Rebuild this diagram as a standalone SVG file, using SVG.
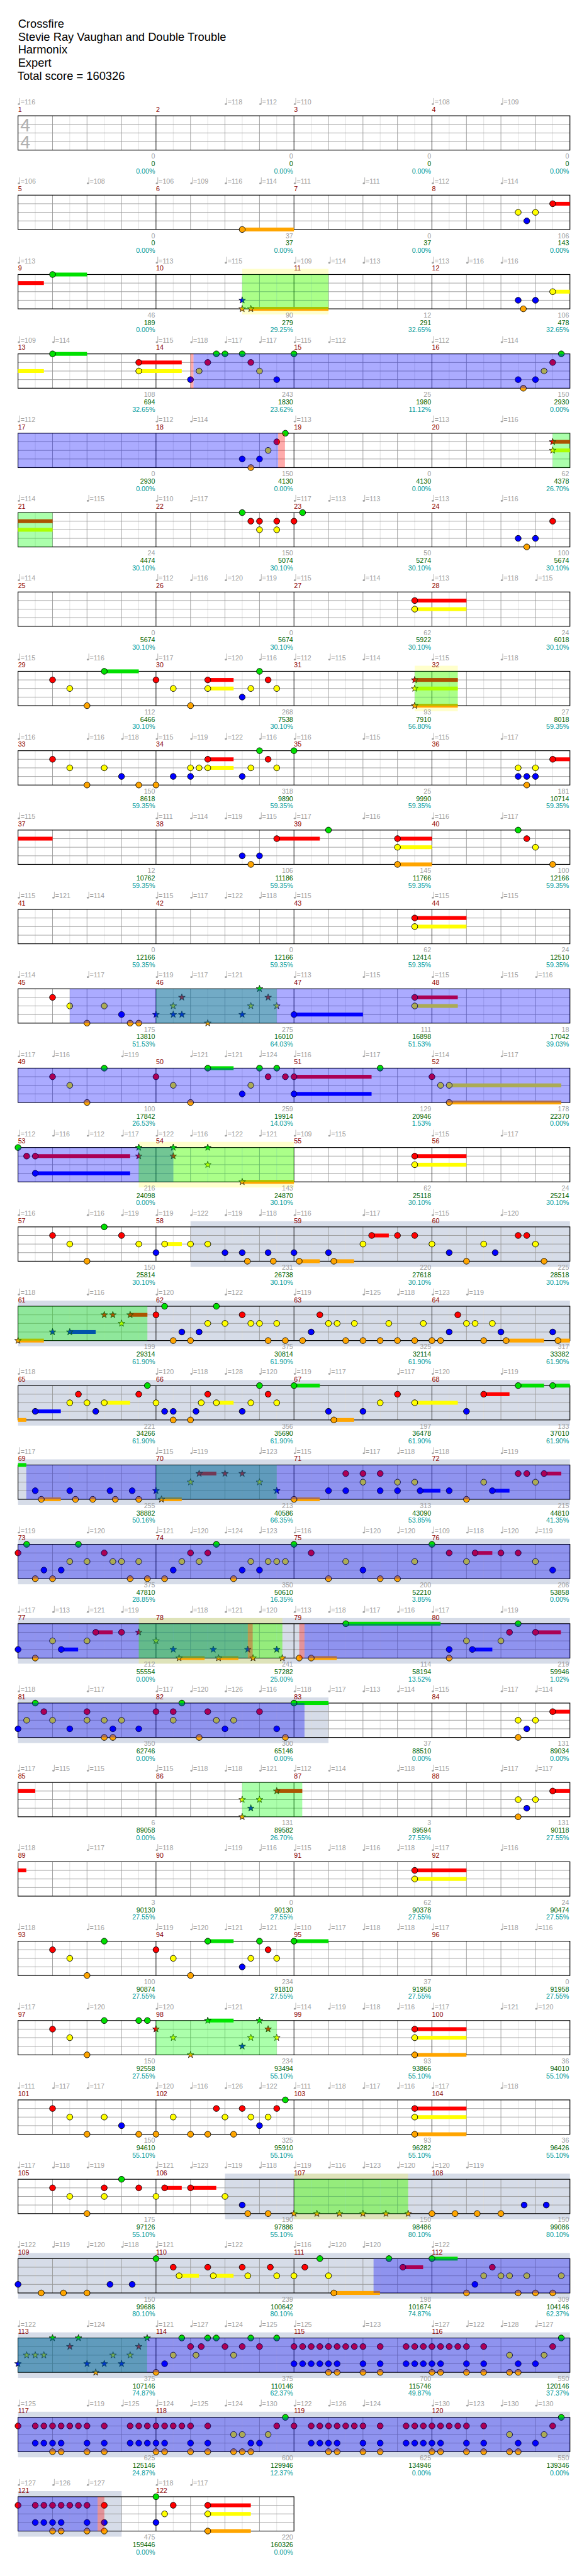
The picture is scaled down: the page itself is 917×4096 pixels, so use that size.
<svg xmlns="http://www.w3.org/2000/svg" width="917" height="4096" viewBox="0 0 917 4096">
<style>
text{font-family:"Liberation Sans",Arial,sans-serif;font-size:12px}
.ti{font-size:20.5px;fill:#000}
.tp{fill:#a0a0a0}
.mn{fill:#8b0000}
.a,.b,.c{text-anchor:end}
.a{fill:#a0a0a0}.b{fill:#006400}.c{fill:#009a9a}
.G{fill:#00e000}.R{fill:#f00}.Y{fill:#ff0}.B{fill:#00f}.O{fill:#ffa500}
.gb{fill:#d6dce8}.yb{fill:#ff0;fill-opacity:.2}
.ob{fill:#00f;fill-opacity:.33}.og{fill:#0f0;fill-opacity:.33}.op{fill:#f00;fill-opacity:.33}
.l1{stroke:#ddd;stroke-width:1;fill:none}.l2{stroke:#999;stroke-width:1;fill:none}.l3{stroke:#000;stroke-width:1;fill:none}
.ts{font-size:32px;fill:#b0b0b0}
</style>
<defs>
<circle id="n" r="5.3" stroke="#000" stroke-width="1"/>
<polygon id="s" points="0,-6.3 1.45,-2 6,-1.95 2.4,0.78 3.7,5.1 0,2.5 -3.7,5.1 -2.4,0.78 -6,-1.95 -1.45,-2" stroke="#000" stroke-width=".8"/>
<g id="q"><ellipse cx="1.5" cy="-0.8" rx="2" ry="1.5"/><path d="M3.2-0.8V-11.5" stroke="#a0a0a0" stroke-width=".9"/></g>
<g id="grid">
<path class="l1" d="M62.6 0v61M123.9 0v61M185.1 0v61M246.4 0v61M307.6 0v61M368.9 0v61M430.1 0v61M491.4 0v61M552.6 0v61M613.9 0v61M675.1 0v61M736.4 0v61M797.6 0v61M858.9 0v61M920.1 0v61M981.4 0v61"/>
<path class="l2" d="M93.3 0v61M154.5 0v61M215.8 0v61M338.3 0v61M399.5 0v61M460.8 0v61M583.3 0v61M644.5 0v61M705.8 0v61M828.3 0v61M889.5 0v61M950.8 0v61M32 15.25H1012M32 30.5H1012M32 45.75H1012"/>
<path class="l3" d="M277 0v61M522 0v61M767 0v61"/>
<rect x="32" y="0" width="980" height="61" fill="none" stroke="#000" stroke-width="1.3"/>
</g>
<g id="grid2">
<path class="l1" d="M62.6 0v61M123.9 0v61M185.1 0v61M246.4 0v61M307.6 0v61M368.9 0v61M430.1 0v61M491.4 0v61"/>
<path class="l2" d="M93.3 0v61M154.5 0v61M215.8 0v61M338.3 0v61M399.5 0v61M460.8 0v61M32 15.25H522M32 30.5H522M32 45.75H522"/>
<path class="l3" d="M277 0v61"/>
<rect x="32" y="0" width="490" height="61" fill="none" stroke="#000" stroke-width="1.3"/>
</g>
</defs>
<rect width="917" height="4096" fill="#fff"/>
<g transform="scale(0.895)">
<g id="title">
<text class="ti" x="32" y="49.3">Crossfire</text>
<text class="ti" x="32" y="72.5">Stevie Ray Vaughan and Double Trouble</text>
<text class="ti" x="32" y="95.5">Harmonix</text>
<text class="ti" x="32" y="118.5">Expert</text>
<text class="ti" x="31" y="141.5">Total score = 160326</text>
</g>

<g id="row-1" transform="translate(0,205.7)">
<use href="#grid"/>
<text class="ts" x="36" y="27.5">4</text><text class="ts" x="36" y="57.5">4</text>
<g class="tp" transform="translate(0,-20)"><use href="#q" x="32"/><text x="36.7">=116</text><use href="#q" x="399.5"/><text x="404.2">=118</text><use href="#q" x="460.8"/><text x="465.5">=112</text><use href="#q" x="522"/><text x="526.7">=110</text><use href="#q" x="767"/><text x="771.7">=108</text><use href="#q" x="889.5"/><text x="894.2">=109</text></g>
<g class="mn" transform="translate(0,-7)"><text x="32">1</text><text x="277">2</text><text x="522">3</text><text x="767">4</text></g>
<g class="a" transform="translate(0,76.3)"><text x="275.5">0</text><text x="520.5">0</text><text x="765.5">0</text><text x="1010.5">0</text></g>
<g class="b" transform="translate(0,89.6)"><text x="275.5">0</text><text x="520.5">0</text><text x="765.5">0</text><text x="1010.5">0</text></g>
<g class="c" transform="translate(0,102.6)"><text x="275.5">0.00%</text><text x="520.5">0.00%</text><text x="765.5">0.00%</text><text x="1010.5">0.00%</text></g>
</g>

<g id="row-2" transform="translate(0,346.7)">
<use href="#grid"/>
<g class="tp" transform="translate(0,-20)"><use href="#q" x="32"/><text x="36.7">=106</text><use href="#q" x="154.5"/><text x="159.2">=108</text><use href="#q" x="277"/><text x="281.7">=106</text><use href="#q" x="338.3"/><text x="343">=109</text><use href="#q" x="399.5"/><text x="404.2">=116</text><use href="#q" x="460.8"/><text x="465.5">=114</text><use href="#q" x="522"/><text x="526.7">=111</text><use href="#q" x="644.5"/><text x="649.2">=111</text><use href="#q" x="767"/><text x="771.7">=112</text><use href="#q" x="889.5"/><text x="894.2">=114</text></g>
<g class="mn" transform="translate(0,-7)"><text x="32">5</text><text x="277">6</text><text x="522">7</text><text x="767">8</text></g>
<g class="R" transform="translate(0,15.25)"><rect x="981.4" y="-3.4" width="30.6" height="6.8"/><use href="#n" x="981.4"/></g>
<g class="Y" transform="translate(0,30.5)"><use href="#n" x="920.1"/><use href="#n" x="950.8"/></g>
<g class="B" transform="translate(0,45.75)"><use href="#n" x="935.4"/></g>
<g class="O" transform="translate(0,61)"><rect x="430.1" y="-3.4" width="91.9" height="6.8"/><use href="#n" x="430.1"/></g>
<g class="a" transform="translate(0,76.3)"><text x="275.5">0</text><text x="520.5">37</text><text x="765.5">0</text><text x="1010.5">106</text></g>
<g class="b" transform="translate(0,89.6)"><text x="275.5">0</text><text x="520.5">37</text><text x="765.5">37</text><text x="1010.5">143</text></g>
<g class="c" transform="translate(0,102.6)"><text x="275.5">0.00%</text><text x="520.5">0.00%</text><text x="765.5">0.00%</text><text x="1010.5">0.00%</text></g>
</g>

<g id="row-3" transform="translate(0,487.7)">
<rect class="yb" x="430.1" y="-10" width="153.2" height="81"/>
<use href="#grid"/>
<g class="tp" transform="translate(0,-20)"><use href="#q" x="32"/><text x="36.7">=113</text><use href="#q" x="277"/><text x="281.7">=113</text><use href="#q" x="399.5"/><text x="404.2">=115</text><use href="#q" x="522"/><text x="526.7">=109</text><use href="#q" x="583.3"/><text x="588">=114</text><use href="#q" x="644.5"/><text x="649.2">=113</text><use href="#q" x="767"/><text x="771.7">=113</text><use href="#q" x="828.3"/><text x="833">=116</text><use href="#q" x="889.5"/><text x="894.2">=116</text></g>
<g class="mn" transform="translate(0,-7)"><text x="32">9</text><text x="277">10</text><text x="522">11</text><text x="767">12</text></g>
<g class="G"><rect x="93.3" y="-3.4" width="61.2" height="6.8"/><use href="#n" x="93.3"/></g>
<g class="R" transform="translate(0,15.25)"><rect x="32" y="-3.4" width="45.9" height="6.8"/></g>
<g class="Y" transform="translate(0,30.5)"><rect x="981.4" y="-3.4" width="30.6" height="6.8"/><use href="#n" x="981.4"/></g>
<g class="B" transform="translate(0,45.75)"><use href="#s" x="430.1"/><use href="#n" x="920.1"/><use href="#n" x="950.8"/></g>
<g class="O" transform="translate(0,61)"><rect x="445.4" y="-3.4" width="137.9" height="6.8"/><use href="#s" x="430.1"/><use href="#s" x="445.4"/><use href="#n" x="929.3"/></g>
<rect class="og" x="430.1" y="0" width="153.2" height="61"/>
<g class="a" transform="translate(0,76.3)"><text x="275.5">46</text><text x="520.5">90</text><text x="765.5">12</text><text x="1010.5">106</text></g>
<g class="b" transform="translate(0,89.6)"><text x="275.5">189</text><text x="520.5">279</text><text x="765.5">291</text><text x="1010.5">478</text></g>
<g class="c" transform="translate(0,102.6)"><text x="275.5">0.00%</text><text x="520.5">29.25%</text><text x="765.5">32.65%</text><text x="1010.5">32.65%</text></g>
</g>

<g id="row-4" transform="translate(0,628.7)">
<use href="#grid"/>
<g class="tp" transform="translate(0,-20)"><use href="#q" x="32"/><text x="36.7">=109</text><use href="#q" x="93.3"/><text x="98">=114</text><use href="#q" x="277"/><text x="281.7">=115</text><use href="#q" x="338.3"/><text x="343">=118</text><use href="#q" x="399.5"/><text x="404.2">=117</text><use href="#q" x="460.8"/><text x="465.5">=117</text><use href="#q" x="522"/><text x="526.7">=115</text><use href="#q" x="583.3"/><text x="588">=112</text><use href="#q" x="767"/><text x="771.7">=112</text><use href="#q" x="889.5"/><text x="894.2">=114</text></g>
<g class="mn" transform="translate(0,-7)"><text x="32">13</text><text x="277">14</text><text x="522">15</text><text x="767">16</text></g>
<g class="G"><rect x="93.3" y="-3.4" width="61.2" height="6.8"/><use href="#n" x="93.3"/><use href="#n" x="384.2"/><use href="#n" x="399.5"/><use href="#n" x="430.1"/><use href="#n" x="522"/><use href="#n" x="996.7"/></g>
<g class="R" transform="translate(0,15.25)"><rect x="246.4" y="-3.4" width="76.3" height="6.8"/><use href="#n" x="246.4"/><use href="#n" x="368.9"/><use href="#n" x="445.4"/><use href="#n" x="981.4"/></g>
<g class="Y" transform="translate(0,30.5)"><rect x="32" y="-3.4" width="45.9" height="6.8"/><rect x="246.4" y="-3.4" width="76.3" height="6.8"/><use href="#n" x="246.4"/><use href="#n" x="353.6"/><use href="#n" x="460.8"/><use href="#n" x="966.1"/></g>
<g class="B" transform="translate(0,45.75)"><use href="#n" x="338.3"/><use href="#n" x="491.4"/><use href="#n" x="920.1"/><use href="#n" x="950.8"/></g>
<g class="O" transform="translate(0,61)"><use href="#n" x="929.3"/></g>
<rect class="op" x="338.3" y="0" width="5.3" height="61"/><rect class="ob" x="343.6" y="0" width="668.4" height="61"/>
<g class="a" transform="translate(0,76.3)"><text x="275.5">108</text><text x="520.5">243</text><text x="765.5">25</text><text x="1010.5">150</text></g>
<g class="b" transform="translate(0,89.6)"><text x="275.5">694</text><text x="520.5">1830</text><text x="765.5">1980</text><text x="1010.5">2930</text></g>
<g class="c" transform="translate(0,102.6)"><text x="275.5">32.65%</text><text x="520.5">23.62%</text><text x="765.5">11.12%</text><text x="1010.5">0.00%</text></g>
</g>

<g id="row-5" transform="translate(0,769.7)">
<use href="#grid"/>
<g class="tp" transform="translate(0,-20)"><use href="#q" x="32"/><text x="36.7">=112</text><use href="#q" x="277"/><text x="281.7">=112</text><use href="#q" x="338.3"/><text x="343">=114</text><use href="#q" x="522"/><text x="526.7">=113</text><use href="#q" x="767"/><text x="771.7">=113</text><use href="#q" x="889.5"/><text x="894.2">=116</text></g>
<g class="mn" transform="translate(0,-7)"><text x="32">17</text><text x="277">18</text><text x="522">19</text><text x="767">20</text></g>
<g class="G"><use href="#n" x="506.7"/></g>
<g class="R" transform="translate(0,15.25)"><rect x="981.4" y="-3.4" width="30.6" height="6.8"/><use href="#n" x="491.4"/><use href="#s" x="981.4"/></g>
<g class="Y" transform="translate(0,30.5)"><rect x="981.4" y="-3.4" width="30.6" height="6.8"/><use href="#n" x="476.1"/><use href="#s" x="981.4"/></g>
<g class="B" transform="translate(0,45.75)"><use href="#n" x="430.1"/><use href="#n" x="460.8"/></g>
<g class="O" transform="translate(0,61)"><use href="#n" x="445.4"/></g>
<rect class="ob" x="32" y="0" width="462" height="61"/><rect class="op" x="494" y="0" width="12" height="61"/><rect class="og" x="981.4" y="0" width="30.6" height="61"/>
<g class="a" transform="translate(0,76.3)"><text x="275.5">0</text><text x="520.5">150</text><text x="765.5">0</text><text x="1010.5">62</text></g>
<g class="b" transform="translate(0,89.6)"><text x="275.5">2930</text><text x="520.5">4130</text><text x="765.5">4130</text><text x="1010.5">4378</text></g>
<g class="c" transform="translate(0,102.6)"><text x="275.5">0.00%</text><text x="520.5">0.00%</text><text x="765.5">0.00%</text><text x="1010.5">26.70%</text></g>
</g>

<g id="row-6" transform="translate(0,910.7)">
<use href="#grid"/>
<g class="tp" transform="translate(0,-20)"><use href="#q" x="32"/><text x="36.7">=114</text><use href="#q" x="154.5"/><text x="159.2">=115</text><use href="#q" x="277"/><text x="281.7">=110</text><use href="#q" x="338.3"/><text x="343">=117</text><use href="#q" x="522"/><text x="526.7">=117</text><use href="#q" x="583.3"/><text x="588">=113</text><use href="#q" x="644.5"/><text x="649.2">=113</text><use href="#q" x="767"/><text x="771.7">=113</text><use href="#q" x="889.5"/><text x="894.2">=116</text></g>
<g class="mn" transform="translate(0,-7)"><text x="32">21</text><text x="277">22</text><text x="522">23</text><text x="767">24</text></g>
<g class="G"><use href="#n" x="430.1"/><use href="#n" x="537.3"/></g>
<g class="R" transform="translate(0,15.25)"><rect x="32" y="-3.4" width="61.3" height="6.8"/><use href="#n" x="445.4"/><use href="#n" x="460.8"/><use href="#n" x="491.4"/><use href="#n" x="522"/><use href="#n" x="981.4"/></g>
<g class="Y" transform="translate(0,30.5)"><rect x="32" y="-3.4" width="61.3" height="6.8"/><use href="#n" x="460.8"/><use href="#n" x="491.4"/></g>
<g class="B" transform="translate(0,45.75)"><use href="#n" x="920.1"/><use href="#n" x="950.8"/></g>
<g class="O" transform="translate(0,61)"><use href="#n" x="935.4"/></g>
<rect class="og" x="32" y="0" width="61.3" height="61"/>
<g class="a" transform="translate(0,76.3)"><text x="275.5">24</text><text x="520.5">150</text><text x="765.5">50</text><text x="1010.5">100</text></g>
<g class="b" transform="translate(0,89.6)"><text x="275.5">4474</text><text x="520.5">5074</text><text x="765.5">5274</text><text x="1010.5">5674</text></g>
<g class="c" transform="translate(0,102.6)"><text x="275.5">30.10%</text><text x="520.5">30.10%</text><text x="765.5">30.10%</text><text x="1010.5">30.10%</text></g>
</g>

<g id="row-7" transform="translate(0,1051.7)">
<use href="#grid"/>
<g class="tp" transform="translate(0,-20)"><use href="#q" x="32"/><text x="36.7">=114</text><use href="#q" x="277"/><text x="281.7">=112</text><use href="#q" x="338.3"/><text x="343">=116</text><use href="#q" x="399.5"/><text x="404.2">=120</text><use href="#q" x="460.8"/><text x="465.5">=119</text><use href="#q" x="522"/><text x="526.7">=115</text><use href="#q" x="644.5"/><text x="649.2">=114</text><use href="#q" x="767"/><text x="771.7">=113</text><use href="#q" x="889.5"/><text x="894.2">=118</text><use href="#q" x="950.8"/><text x="955.5">=115</text></g>
<g class="mn" transform="translate(0,-7)"><text x="32">25</text><text x="277">26</text><text x="522">27</text><text x="767">28</text></g>
<g class="R" transform="translate(0,15.25)"><rect x="736.4" y="-3.4" width="91.9" height="6.8"/><use href="#n" x="736.4"/></g>
<g class="Y" transform="translate(0,30.5)"><rect x="736.4" y="-3.4" width="91.9" height="6.8"/><use href="#n" x="736.4"/></g>
<g class="a" transform="translate(0,76.3)"><text x="275.5">0</text><text x="520.5">0</text><text x="765.5">62</text><text x="1010.5">24</text></g>
<g class="b" transform="translate(0,89.6)"><text x="275.5">5674</text><text x="520.5">5674</text><text x="765.5">5922</text><text x="1010.5">6018</text></g>
<g class="c" transform="translate(0,102.6)"><text x="275.5">30.10%</text><text x="520.5">30.10%</text><text x="765.5">30.10%</text><text x="1010.5">30.10%</text></g>
</g>

<g id="row-8" transform="translate(0,1192.7)">
<rect class="yb" x="736.4" y="-10" width="76.5" height="81"/>
<use href="#grid"/>
<g class="tp" transform="translate(0,-20)"><use href="#q" x="32"/><text x="36.7">=115</text><use href="#q" x="154.5"/><text x="159.2">=116</text><use href="#q" x="277"/><text x="281.7">=117</text><use href="#q" x="399.5"/><text x="404.2">=120</text><use href="#q" x="460.8"/><text x="465.5">=116</text><use href="#q" x="522"/><text x="526.7">=112</text><use href="#q" x="583.3"/><text x="588">=115</text><use href="#q" x="644.5"/><text x="649.2">=114</text><use href="#q" x="767"/><text x="771.7">=115</text><use href="#q" x="889.5"/><text x="894.2">=118</text></g>
<g class="mn" transform="translate(0,-7)"><text x="32">29</text><text x="277">30</text><text x="522">31</text><text x="767">32</text></g>
<g class="G"><rect x="185.1" y="-3.4" width="61.3" height="6.8"/><use href="#n" x="185.1"/><use href="#n" x="460.8"/></g>
<g class="R" transform="translate(0,15.25)"><rect x="368.9" y="-3.4" width="45.9" height="6.8"/><rect x="736.4" y="-3.4" width="76.5" height="6.8"/><use href="#n" x="93.3"/><use href="#n" x="277"/><use href="#n" x="368.9"/><use href="#n" x="476.1"/><use href="#s" x="736.4"/></g>
<g class="Y" transform="translate(0,30.5)"><rect x="368.9" y="-3.4" width="45.9" height="6.8"/><rect x="736.4" y="-3.4" width="76.5" height="6.8"/><use href="#n" x="123.9"/><use href="#n" x="307.6"/><use href="#n" x="368.9"/><use href="#n" x="445.4"/><use href="#n" x="491.4"/><use href="#s" x="736.4"/></g>
<g class="B" transform="translate(0,45.75)"><use href="#n" x="430.1"/></g>
<g class="O" transform="translate(0,61)"><rect x="736.4" y="-3.4" width="76.5" height="6.8"/><use href="#n" x="154.5"/><use href="#n" x="338.3"/><use href="#s" x="736.4"/></g>
<rect class="og" x="736.4" y="0" width="76.5" height="61"/>
<g class="a" transform="translate(0,76.3)"><text x="275.5">112</text><text x="520.5">268</text><text x="765.5">93</text><text x="1010.5">27</text></g>
<g class="b" transform="translate(0,89.6)"><text x="275.5">6466</text><text x="520.5">7538</text><text x="765.5">7910</text><text x="1010.5">8018</text></g>
<g class="c" transform="translate(0,102.6)"><text x="275.5">30.10%</text><text x="520.5">30.10%</text><text x="765.5">56.80%</text><text x="1010.5">59.35%</text></g>
</g>

<g id="row-9" transform="translate(0,1333.7)">
<use href="#grid"/>
<g class="tp" transform="translate(0,-20)"><use href="#q" x="32"/><text x="36.7">=116</text><use href="#q" x="154.5"/><text x="159.2">=116</text><use href="#q" x="215.8"/><text x="220.5">=118</text><use href="#q" x="277"/><text x="281.7">=115</text><use href="#q" x="338.3"/><text x="343">=119</text><use href="#q" x="399.5"/><text x="404.2">=122</text><use href="#q" x="460.8"/><text x="465.5">=116</text><use href="#q" x="522"/><text x="526.7">=116</text><use href="#q" x="644.5"/><text x="649.2">=115</text><use href="#q" x="767"/><text x="771.7">=115</text><use href="#q" x="889.5"/><text x="894.2">=117</text></g>
<g class="mn" transform="translate(0,-7)"><text x="32">33</text><text x="277">34</text><text x="522">35</text><text x="767">36</text></g>
<g class="G"><use href="#n" x="460.8"/><use href="#n" x="522"/></g>
<g class="R" transform="translate(0,15.25)"><rect x="368.9" y="-3.4" width="45.9" height="6.8"/><rect x="981.4" y="-3.4" width="30.6" height="6.8"/><use href="#n" x="93.3"/><use href="#n" x="368.9"/><use href="#n" x="476.1"/><use href="#n" x="981.4"/></g>
<g class="Y" transform="translate(0,30.5)"><rect x="368.9" y="-3.4" width="45.9" height="6.8"/><use href="#n" x="123.9"/><use href="#n" x="185.1"/><use href="#n" x="338.3"/><use href="#n" x="353.6"/><use href="#n" x="368.9"/><use href="#n" x="445.4"/><use href="#n" x="491.4"/><use href="#n" x="920.1"/><use href="#n" x="950.8"/></g>
<g class="B" transform="translate(0,45.75)"><use href="#n" x="215.8"/><use href="#n" x="307.6"/><use href="#n" x="338.3"/><use href="#n" x="430.1"/><use href="#n" x="920.1"/><use href="#n" x="935.4"/><use href="#n" x="950.8"/></g>
<g class="O" transform="translate(0,61)"><use href="#n" x="154.5"/><use href="#n" x="246.4"/><use href="#n" x="277"/><use href="#n" x="935.4"/></g>
<g class="a" transform="translate(0,76.3)"><text x="275.5">150</text><text x="520.5">318</text><text x="765.5">25</text><text x="1010.5">181</text></g>
<g class="b" transform="translate(0,89.6)"><text x="275.5">8618</text><text x="520.5">9890</text><text x="765.5">9990</text><text x="1010.5">10714</text></g>
<g class="c" transform="translate(0,102.6)"><text x="275.5">59.35%</text><text x="520.5">59.35%</text><text x="765.5">59.35%</text><text x="1010.5">59.35%</text></g>
</g>

<g id="row-10" transform="translate(0,1474.7)">
<use href="#grid"/>
<g class="tp" transform="translate(0,-20)"><use href="#q" x="32"/><text x="36.7">=115</text><use href="#q" x="277"/><text x="281.7">=111</text><use href="#q" x="338.3"/><text x="343">=114</text><use href="#q" x="399.5"/><text x="404.2">=119</text><use href="#q" x="460.8"/><text x="465.5">=115</text><use href="#q" x="522"/><text x="526.7">=117</text><use href="#q" x="644.5"/><text x="649.2">=116</text><use href="#q" x="767"/><text x="771.7">=116</text><use href="#q" x="889.5"/><text x="894.2">=117</text></g>
<g class="mn" transform="translate(0,-7)"><text x="32">37</text><text x="277">38</text><text x="522">39</text><text x="767">40</text></g>
<g class="G"><use href="#n" x="583.3"/><use href="#n" x="920.1"/></g>
<g class="R" transform="translate(0,15.25)"><rect x="32" y="-3.4" width="61.3" height="6.8"/><rect x="491.4" y="-3.4" width="76.5" height="6.8"/><rect x="705.8" y="-3.4" width="61.2" height="6.8"/><use href="#n" x="491.4"/><use href="#n" x="705.8"/><use href="#n" x="935.4"/></g>
<g class="Y" transform="translate(0,30.5)"><rect x="705.8" y="-3.4" width="61.2" height="6.8"/><use href="#n" x="705.8"/><use href="#n" x="950.8"/></g>
<g class="B" transform="translate(0,45.75)"><use href="#n" x="430.1"/><use href="#n" x="460.8"/></g>
<g class="O" transform="translate(0,61)"><rect x="705.8" y="-3.4" width="61.2" height="6.8"/><use href="#n" x="445.4"/><use href="#n" x="705.8"/><use href="#n" x="981.4"/></g>
<g class="a" transform="translate(0,76.3)"><text x="275.5">12</text><text x="520.5">106</text><text x="765.5">145</text><text x="1010.5">100</text></g>
<g class="b" transform="translate(0,89.6)"><text x="275.5">10762</text><text x="520.5">11186</text><text x="765.5">11766</text><text x="1010.5">12166</text></g>
<g class="c" transform="translate(0,102.6)"><text x="275.5">59.35%</text><text x="520.5">59.35%</text><text x="765.5">59.35%</text><text x="1010.5">59.35%</text></g>
</g>

<g id="row-11" transform="translate(0,1615.7)">
<use href="#grid"/>
<g class="tp" transform="translate(0,-20)"><use href="#q" x="32"/><text x="36.7">=115</text><use href="#q" x="93.3"/><text x="98">=121</text><use href="#q" x="154.5"/><text x="159.2">=114</text><use href="#q" x="277"/><text x="281.7">=115</text><use href="#q" x="338.3"/><text x="343">=117</text><use href="#q" x="399.5"/><text x="404.2">=122</text><use href="#q" x="460.8"/><text x="465.5">=118</text><use href="#q" x="522"/><text x="526.7">=115</text><use href="#q" x="767"/><text x="771.7">=115</text><use href="#q" x="889.5"/><text x="894.2">=115</text></g>
<g class="mn" transform="translate(0,-7)"><text x="32">41</text><text x="277">42</text><text x="522">43</text><text x="767">44</text></g>
<g class="R" transform="translate(0,15.25)"><rect x="736.4" y="-3.4" width="91.9" height="6.8"/><use href="#n" x="736.4"/></g>
<g class="Y" transform="translate(0,30.5)"><rect x="736.4" y="-3.4" width="91.9" height="6.8"/><use href="#n" x="736.4"/></g>
<g class="a" transform="translate(0,76.3)"><text x="275.5">0</text><text x="520.5">0</text><text x="765.5">62</text><text x="1010.5">24</text></g>
<g class="b" transform="translate(0,89.6)"><text x="275.5">12166</text><text x="520.5">12166</text><text x="765.5">12414</text><text x="1010.5">12510</text></g>
<g class="c" transform="translate(0,102.6)"><text x="275.5">59.35%</text><text x="520.5">59.35%</text><text x="765.5">59.35%</text><text x="1010.5">59.35%</text></g>
</g>

<g id="row-12" transform="translate(0,1756.7)">
<use href="#grid"/>
<g class="tp" transform="translate(0,-20)"><use href="#q" x="32"/><text x="36.7">=114</text><use href="#q" x="154.5"/><text x="159.2">=117</text><use href="#q" x="277"/><text x="281.7">=119</text><use href="#q" x="338.3"/><text x="343">=117</text><use href="#q" x="399.5"/><text x="404.2">=121</text><use href="#q" x="522"/><text x="526.7">=113</text><use href="#q" x="644.5"/><text x="649.2">=115</text><use href="#q" x="767"/><text x="771.7">=115</text><use href="#q" x="889.5"/><text x="894.2">=115</text><use href="#q" x="950.8"/><text x="955.5">=116</text></g>
<g class="mn" transform="translate(0,-7)"><text x="32">45</text><text x="277">46</text><text x="522">47</text><text x="767">48</text></g>
<g class="G"><use href="#s" x="460.8"/></g>
<g class="R" transform="translate(0,15.25)"><rect x="736.4" y="-3.4" width="76.5" height="6.8"/><use href="#n" x="93.3"/><use href="#n" x="736.4"/><use href="#s" x="322.9"/><use href="#s" x="476.1"/></g>
<g class="Y" transform="translate(0,30.5)"><rect x="736.4" y="-3.4" width="76.5" height="6.8"/><use href="#n" x="123.9"/><use href="#n" x="185.1"/><use href="#n" x="736.4"/><use href="#s" x="307.6"/><use href="#s" x="445.4"/><use href="#s" x="491.4"/></g>
<g class="B" transform="translate(0,45.75)"><rect x="522" y="-3.4" width="122.5" height="6.8"/><use href="#n" x="215.8"/><use href="#n" x="522"/><use href="#s" x="277"/><use href="#s" x="307.6"/><use href="#s" x="322.9"/><use href="#s" x="430.1"/></g>
<g class="O" transform="translate(0,61)"><use href="#n" x="154.5"/><use href="#n" x="231.1"/><use href="#n" x="246.4"/><use href="#s" x="368.9"/></g>
<rect class="og" x="277" y="0" width="214.4" height="61"/><rect class="ob" x="123.9" y="0" width="888.1" height="61"/>
<g class="a" transform="translate(0,76.3)"><text x="275.5">175</text><text x="520.5">275</text><text x="765.5">111</text><text x="1010.5">18</text></g>
<g class="b" transform="translate(0,89.6)"><text x="275.5">13810</text><text x="520.5">16010</text><text x="765.5">16898</text><text x="1010.5">17042</text></g>
<g class="c" transform="translate(0,102.6)"><text x="275.5">51.53%</text><text x="520.5">64.03%</text><text x="765.5">51.53%</text><text x="1010.5">39.03%</text></g>
</g>

<g id="row-13" transform="translate(0,1897.7)">
<use href="#grid"/>
<g class="tp" transform="translate(0,-20)"><use href="#q" x="32"/><text x="36.7">=117</text><use href="#q" x="93.3"/><text x="98">=116</text><use href="#q" x="215.8"/><text x="220.5">=119</text><use href="#q" x="338.3"/><text x="343">=121</text><use href="#q" x="399.5"/><text x="404.2">=121</text><use href="#q" x="460.8"/><text x="465.5">=124</text><use href="#q" x="522"/><text x="526.7">=116</text><use href="#q" x="644.5"/><text x="649.2">=117</text><use href="#q" x="767"/><text x="771.7">=114</text><use href="#q" x="889.5"/><text x="894.2">=117</text></g>
<g class="mn" transform="translate(0,-7)"><text x="32">49</text><text x="277">50</text><text x="522">51</text><text x="767">52</text></g>
<g class="G"><rect x="368.9" y="-3.4" width="45.9" height="6.8"/><use href="#n" x="185.1"/><use href="#n" x="368.9"/><use href="#n" x="460.8"/><use href="#n" x="491.4"/><use href="#n" x="675.1"/></g>
<g class="R" transform="translate(0,15.25)"><rect x="522" y="-3.4" width="137.8" height="6.8"/><use href="#n" x="93.3"/><use href="#n" x="277"/><use href="#n" x="476.1"/><use href="#n" x="506.7"/><use href="#n" x="522"/><use href="#n" x="767"/></g>
<g class="Y" transform="translate(0,30.5)"><rect x="797.6" y="-3.4" width="199.1" height="6.8"/><use href="#n" x="123.9"/><use href="#n" x="307.6"/><use href="#n" x="445.4"/><use href="#n" x="782.3"/><use href="#n" x="797.6"/></g>
<g class="B" transform="translate(0,45.75)"><rect x="522" y="-3.4" width="137.8" height="6.8"/><use href="#n" x="430.1"/><use href="#n" x="522"/></g>
<g class="O" transform="translate(0,61)"><rect x="797.6" y="-3.4" width="199.1" height="6.8"/><use href="#n" x="154.5"/><use href="#n" x="338.3"/><use href="#n" x="797.6"/></g>
<rect class="ob" x="32" y="0" width="980" height="61"/>
<g class="a" transform="translate(0,76.3)"><text x="275.5">100</text><text x="520.5">259</text><text x="765.5">129</text><text x="1010.5">178</text></g>
<g class="b" transform="translate(0,89.6)"><text x="275.5">17842</text><text x="520.5">19914</text><text x="765.5">20946</text><text x="1010.5">22370</text></g>
<g class="c" transform="translate(0,102.6)"><text x="275.5">26.53%</text><text x="520.5">14.03%</text><text x="765.5">1.53%</text><text x="1010.5">0.00%</text></g>
</g>

<g id="row-14" transform="translate(0,2038.7)">
<rect class="yb" x="246.4" y="-10" width="275.6" height="81"/>
<use href="#grid"/>
<g class="tp" transform="translate(0,-20)"><use href="#q" x="32"/><text x="36.7">=112</text><use href="#q" x="93.3"/><text x="98">=116</text><use href="#q" x="154.5"/><text x="159.2">=112</text><use href="#q" x="215.8"/><text x="220.5">=117</text><use href="#q" x="277"/><text x="281.7">=122</text><use href="#q" x="338.3"/><text x="343">=116</text><use href="#q" x="399.5"/><text x="404.2">=122</text><use href="#q" x="460.8"/><text x="465.5">=121</text><use href="#q" x="522"/><text x="526.7">=109</text><use href="#q" x="583.3"/><text x="588">=115</text><use href="#q" x="767"/><text x="771.7">=115</text><use href="#q" x="889.5"/><text x="894.2">=117</text></g>
<g class="mn" transform="translate(0,-7)"><text x="32">53</text><text x="277">54</text><text x="522">55</text><text x="767">56</text></g>
<g class="G"><use href="#n" x="32"/><use href="#s" x="246.4"/><use href="#s" x="307.6"/><use href="#s" x="368.9"/></g>
<g class="R" transform="translate(0,15.25)"><rect x="62.6" y="-3.4" width="168.5" height="6.8"/><rect x="736.4" y="-3.4" width="91.9" height="6.8"/><use href="#n" x="47.3"/><use href="#n" x="62.6"/><use href="#n" x="736.4"/><use href="#s" x="246.4"/><use href="#s" x="307.6"/></g>
<g class="Y" transform="translate(0,30.5)"><rect x="736.4" y="-3.4" width="91.9" height="6.8"/><use href="#n" x="736.4"/><use href="#s" x="368.9"/></g>
<g class="B" transform="translate(0,45.75)"><rect x="62.6" y="-3.4" width="168.5" height="6.8"/><use href="#n" x="62.6"/></g>
<g class="O" transform="translate(0,61)"><rect x="430.1" y="-3.4" width="91.9" height="6.8"/><use href="#s" x="430.1"/></g>
<rect class="ob" x="32" y="0" width="275.6" height="61"/><rect class="og" x="246.4" y="0" width="275.6" height="61"/>
<g class="a" transform="translate(0,76.3)"><text x="275.5">216</text><text x="520.5">143</text><text x="765.5">62</text><text x="1010.5">24</text></g>
<g class="b" transform="translate(0,89.6)"><text x="275.5">24098</text><text x="520.5">24870</text><text x="765.5">25118</text><text x="1010.5">25214</text></g>
<g class="c" transform="translate(0,102.6)"><text x="275.5">0.00%</text><text x="520.5">30.10%</text><text x="765.5">30.10%</text><text x="1010.5">30.10%</text></g>
</g>

<g id="row-15" transform="translate(0,2179.7)">
<rect class="gb" x="338.3" y="-10" width="673.7" height="81"/>
<use href="#grid"/>
<g class="tp" transform="translate(0,-20)"><use href="#q" x="32"/><text x="36.7">=116</text><use href="#q" x="154.5"/><text x="159.2">=116</text><use href="#q" x="215.8"/><text x="220.5">=119</text><use href="#q" x="277"/><text x="281.7">=119</text><use href="#q" x="338.3"/><text x="343">=122</text><use href="#q" x="399.5"/><text x="404.2">=119</text><use href="#q" x="460.8"/><text x="465.5">=118</text><use href="#q" x="522"/><text x="526.7">=116</text><use href="#q" x="644.5"/><text x="649.2">=117</text><use href="#q" x="767"/><text x="771.7">=115</text><use href="#q" x="889.5"/><text x="894.2">=120</text></g>
<g class="mn" transform="translate(0,-7)"><text x="32">57</text><text x="277">58</text><text x="522">59</text><text x="767">60</text></g>
<g class="G"><use href="#n" x="185.1"/></g>
<g class="R" transform="translate(0,15.25)"><rect x="660" y="-3.4" width="30.4" height="6.8"/><use href="#n" x="93.3"/><use href="#n" x="215.8"/><use href="#n" x="660"/><use href="#n" x="705.8"/><use href="#n" x="736.4"/><use href="#n" x="920.1"/><use href="#n" x="935.4"/></g>
<g class="Y" transform="translate(0,30.5)"><rect x="292.3" y="-3.4" width="30.6" height="6.8"/><use href="#n" x="123.9"/><use href="#n" x="246.4"/><use href="#n" x="292.3"/><use href="#n" x="338.3"/><use href="#n" x="368.9"/><use href="#n" x="644.5"/><use href="#n" x="767"/><use href="#n" x="858.9"/><use href="#n" x="950.8"/></g>
<g class="B" transform="translate(0,45.75)"><use href="#n" x="277"/><use href="#n" x="399.5"/><use href="#n" x="430.1"/><use href="#n" x="476.1"/><use href="#n" x="522"/><use href="#n" x="583.3"/><use href="#n" x="797.6"/><use href="#n" x="879.3"/></g>
<g class="O" transform="translate(0,61)"><rect x="531.3" y="-3.4" width="36.6" height="6.8"/><rect x="592.7" y="-3.4" width="36" height="6.8"/><use href="#n" x="154.5"/><use href="#n" x="439.3"/><use href="#n" x="485.3"/><use href="#n" x="531.3"/><use href="#n" x="592.7"/><use href="#n" x="828.3"/><use href="#n" x="966.1"/></g>
<g class="a" transform="translate(0,76.3)"><text x="275.5">150</text><text x="520.5">231</text><text x="765.5">220</text><text x="1010.5">225</text></g>
<g class="b" transform="translate(0,89.6)"><text x="275.5">25814</text><text x="520.5">26738</text><text x="765.5">27618</text><text x="1010.5">28518</text></g>
<g class="c" transform="translate(0,102.6)"><text x="275.5">30.10%</text><text x="520.5">30.10%</text><text x="765.5">30.10%</text><text x="1010.5">30.10%</text></g>
</g>

<g id="row-16" transform="translate(0,2320.7)">
<rect class="gb" x="32" y="-10" width="980" height="81"/>
<use href="#grid"/>
<g class="tp" transform="translate(0,-20)"><use href="#q" x="32"/><text x="36.7">=118</text><use href="#q" x="154.5"/><text x="159.2">=116</text><use href="#q" x="277"/><text x="281.7">=120</text><use href="#q" x="399.5"/><text x="404.2">=122</text><use href="#q" x="522"/><text x="526.7">=119</text><use href="#q" x="644.5"/><text x="649.2">=125</text><use href="#q" x="705.8"/><text x="710.5">=118</text><use href="#q" x="767"/><text x="771.7">=123</text><use href="#q" x="828.3"/><text x="833">=119</text></g>
<g class="mn" transform="translate(0,-7)"><text x="32">61</text><text x="277">62</text><text x="522">63</text><text x="767">64</text></g>
<g class="G"><use href="#n" x="292.3"/><use href="#n" x="384.2"/></g>
<g class="R" transform="translate(0,15.25)"><rect x="231.1" y="-3.4" width="30.6" height="6.8"/><use href="#n" x="277"/><use href="#n" x="430.1"/><use href="#n" x="567.9"/><use href="#n" x="812.9"/><use href="#s" x="185.1"/><use href="#s" x="200.4"/><use href="#s" x="231.1"/></g>
<g class="Y" transform="translate(0,30.5)"><use href="#n" x="368.9"/><use href="#n" x="399.5"/><use href="#n" x="445.4"/><use href="#n" x="460.8"/><use href="#n" x="491.4"/><use href="#n" x="583.3"/><use href="#n" x="598.6"/><use href="#n" x="629.2"/><use href="#n" x="690.4"/><use href="#n" x="751.7"/><use href="#n" x="828.3"/><use href="#n" x="843.6"/><use href="#n" x="874.2"/><use href="#s" x="215.8"/></g>
<g class="B" transform="translate(0,45.75)"><rect x="123.9" y="-3.4" width="46" height="6.8"/><use href="#n" x="322.9"/><use href="#n" x="353.6"/><use href="#n" x="552.6"/><use href="#n" x="797.6"/><use href="#n" x="889.5"/><use href="#n" x="981.4"/><use href="#s" x="93.3"/><use href="#s" x="123.9"/></g>
<g class="O" transform="translate(0,61)"><rect x="32" y="-3.4" width="45.9" height="6.8"/><rect x="898.7" y="-3.4" width="67.4" height="6.8"/><rect x="990.7" y="-3.4" width="21.3" height="6.8"/><use href="#n" x="307.6"/><use href="#n" x="338.3"/><use href="#n" x="476.1"/><use href="#n" x="506.7"/><use href="#n" x="537.3"/><use href="#n" x="613.9"/><use href="#n" x="644.5"/><use href="#n" x="675.1"/><use href="#n" x="705.8"/><use href="#n" x="736.4"/><use href="#n" x="767"/><use href="#n" x="782.3"/><use href="#n" x="858.9"/><use href="#n" x="898.7"/><use href="#n" x="990.7"/><use href="#s" x="32"/></g>
<rect class="og" x="32" y="0" width="229.7" height="61"/>
<g class="a" transform="translate(0,76.3)"><text x="275.5">199</text><text x="520.5">375</text><text x="765.5">325</text><text x="1010.5">317</text></g>
<g class="b" transform="translate(0,89.6)"><text x="275.5">29314</text><text x="520.5">30814</text><text x="765.5">32114</text><text x="1010.5">33382</text></g>
<g class="c" transform="translate(0,102.6)"><text x="275.5">61.90%</text><text x="520.5">61.90%</text><text x="765.5">61.90%</text><text x="1010.5">61.90%</text></g>
</g>

<g id="row-17" transform="translate(0,2461.7)">
<rect class="gb" x="32" y="-10" width="980" height="81"/>
<use href="#grid"/>
<g class="tp" transform="translate(0,-20)"><use href="#q" x="32"/><text x="36.7">=118</text><use href="#q" x="277"/><text x="281.7">=120</text><use href="#q" x="338.3"/><text x="343">=118</text><use href="#q" x="399.5"/><text x="404.2">=128</text><use href="#q" x="460.8"/><text x="465.5">=120</text><use href="#q" x="522"/><text x="526.7">=119</text><use href="#q" x="583.3"/><text x="588">=117</text><use href="#q" x="705.8"/><text x="710.5">=117</text><use href="#q" x="767"/><text x="771.7">=120</text><use href="#q" x="889.5"/><text x="894.2">=119</text></g>
<g class="mn" transform="translate(0,-7)"><text x="32">65</text><text x="277">66</text><text x="522">67</text><text x="767">68</text></g>
<g class="G"><rect x="522" y="-3.4" width="45.9" height="6.8"/><rect x="920.1" y="-3.4" width="46" height="6.8"/><rect x="981.4" y="-3.4" width="30.6" height="6.8"/><use href="#n" x="261.7"/><use href="#n" x="460.8"/><use href="#n" x="522"/><use href="#n" x="920.1"/><use href="#n" x="981.4"/></g>
<g class="R" transform="translate(0,15.25)"><rect x="858.9" y="-3.4" width="45.8" height="6.8"/><use href="#n" x="139.2"/><use href="#n" x="246.4"/><use href="#n" x="368.9"/><use href="#n" x="476.1"/><use href="#n" x="705.8"/><use href="#n" x="858.9"/></g>
<g class="Y" transform="translate(0,30.5)"><rect x="185.1" y="-3.4" width="46" height="6.8"/><rect x="384.2" y="-3.4" width="30.6" height="6.8"/><rect x="736.4" y="-3.4" width="76.5" height="6.8"/><use href="#n" x="123.9"/><use href="#n" x="154.5"/><use href="#n" x="185.1"/><use href="#n" x="277"/><use href="#n" x="357.3"/><use href="#n" x="384.2"/><use href="#n" x="445.4"/><use href="#n" x="491.4"/><use href="#n" x="675.1"/><use href="#n" x="736.4"/></g>
<g class="B" transform="translate(0,45.75)"><rect x="62.6" y="-3.4" width="45.4" height="6.8"/><use href="#n" x="62.6"/><use href="#n" x="170"/><use href="#n" x="292.3"/><use href="#n" x="307.6"/><use href="#n" x="348"/><use href="#n" x="430.1"/><use href="#n" x="583.3"/><use href="#n" x="644.5"/><use href="#n" x="828.3"/></g>
<g class="O" transform="translate(0,61)"><rect x="32" y="-3.4" width="14.7" height="6.8"/><rect x="592.7" y="-3.4" width="36" height="6.8"/><use href="#n" x="307.6"/><use href="#n" x="338.3"/><use href="#n" x="592.7"/></g>
<g class="a" transform="translate(0,76.3)"><text x="275.5">221</text><text x="520.5">356</text><text x="765.5">197</text><text x="1010.5">133</text></g>
<g class="b" transform="translate(0,89.6)"><text x="275.5">34266</text><text x="520.5">35690</text><text x="765.5">36478</text><text x="1010.5">37010</text></g>
<g class="c" transform="translate(0,102.6)"><text x="275.5">61.90%</text><text x="520.5">61.90%</text><text x="765.5">61.90%</text><text x="1010.5">61.90%</text></g>
</g>

<g id="row-18" transform="translate(0,2602.7)">
<rect class="gb" x="32" y="-10" width="980" height="81"/>
<use href="#grid"/>
<g class="tp" transform="translate(0,-20)"><use href="#q" x="32"/><text x="36.7">=117</text><use href="#q" x="277"/><text x="281.7">=115</text><use href="#q" x="338.3"/><text x="343">=119</text><use href="#q" x="460.8"/><text x="465.5">=123</text><use href="#q" x="522"/><text x="526.7">=115</text><use href="#q" x="644.5"/><text x="649.2">=117</text><use href="#q" x="705.8"/><text x="710.5">=118</text><use href="#q" x="767"/><text x="771.7">=118</text><use href="#q" x="889.5"/><text x="894.2">=119</text></g>
<g class="mn" transform="translate(0,-7)"><text x="32">69</text><text x="277">70</text><text x="522">71</text><text x="767">72</text></g>
<g class="G"><rect x="32" y="-3.4" width="14.7" height="6.8"/></g>
<g class="R" transform="translate(0,15.25)"><rect x="353.6" y="-3.4" width="30.6" height="6.8"/><rect x="966.1" y="-3.4" width="30.6" height="6.8"/><use href="#n" x="614"/><use href="#n" x="644.5"/><use href="#n" x="675.1"/><use href="#n" x="920.1"/><use href="#n" x="935.4"/><use href="#n" x="966.1"/><use href="#s" x="353.6"/><use href="#s" x="399.5"/><use href="#s" x="430.1"/></g>
<g class="Y" transform="translate(0,30.5)"><use href="#n" x="644.5"/><use href="#n" x="705.8"/><use href="#n" x="736.4"/><use href="#n" x="858.9"/><use href="#n" x="950.8"/><use href="#s" x="338.3"/><use href="#s" x="460.8"/></g>
<g class="B" transform="translate(0,45.75)"><rect x="746" y="-3.4" width="36" height="6.8"/><rect x="874.2" y="-3.4" width="30.5" height="6.8"/><use href="#n" x="62.6"/><use href="#n" x="123.9"/><use href="#n" x="195.3"/><use href="#n" x="234.7"/><use href="#n" x="583.3"/><use href="#n" x="614"/><use href="#n" x="675.1"/><use href="#n" x="705.8"/><use href="#n" x="746"/><use href="#n" x="797.6"/><use href="#n" x="874.2"/><use href="#s" x="277"/><use href="#s" x="491.4"/></g>
<g class="O" transform="translate(0,61)"><rect x="73.3" y="-3.4" width="34.7" height="6.8"/><rect x="286.7" y="-3.4" width="36" height="6.8"/><rect x="522" y="-3.4" width="45.9" height="6.8"/><use href="#n" x="73.3"/><use href="#n" x="134"/><use href="#n" x="164.7"/><use href="#n" x="204.7"/><use href="#n" x="246.4"/><use href="#n" x="522"/><use href="#n" x="828.3"/><use href="#s" x="286.7"/></g>
<rect class="og" x="277" y="0" width="214.4" height="61"/><rect class="ob" x="46.7" y="0" width="965.3" height="61"/>
<g class="a" transform="translate(0,76.3)"><text x="275.5">255</text><text x="520.5">213</text><text x="765.5">313</text><text x="1010.5">215</text></g>
<g class="b" transform="translate(0,89.6)"><text x="275.5">38882</text><text x="520.5">40586</text><text x="765.5">43090</text><text x="1010.5">44810</text></g>
<g class="c" transform="translate(0,102.6)"><text x="275.5">50.16%</text><text x="520.5">66.35%</text><text x="765.5">53.85%</text><text x="1010.5">41.35%</text></g>
</g>

<g id="row-19" transform="translate(0,2743.7)">
<rect class="gb" x="32" y="-10" width="980" height="81"/>
<use href="#grid"/>
<g class="tp" transform="translate(0,-20)"><use href="#q" x="32"/><text x="36.7">=119</text><use href="#q" x="154.5"/><text x="159.2">=120</text><use href="#q" x="277"/><text x="281.7">=121</text><use href="#q" x="338.3"/><text x="343">=120</text><use href="#q" x="399.5"/><text x="404.2">=124</text><use href="#q" x="460.8"/><text x="465.5">=123</text><use href="#q" x="522"/><text x="526.7">=116</text><use href="#q" x="644.5"/><text x="649.2">=120</text><use href="#q" x="705.8"/><text x="710.5">=120</text><use href="#q" x="767"/><text x="771.7">=109</text><use href="#q" x="828.3"/><text x="833">=118</text><use href="#q" x="889.5"/><text x="894.2">=120</text><use href="#q" x="950.8"/><text x="955.5">=119</text></g>
<g class="mn" transform="translate(0,-7)"><text x="32">73</text><text x="277">74</text><text x="522">75</text><text x="767">76</text></g>
<g class="G"><use href="#n" x="47.3"/><use href="#n" x="139.2"/><use href="#n" x="384.2"/><use href="#n" x="522"/><use href="#n" x="767"/></g>
<g class="R" transform="translate(0,15.25)"><rect x="843.6" y="-3.4" width="30.6" height="6.8"/><use href="#n" x="32"/><use href="#n" x="185.1"/><use href="#n" x="338.3"/><use href="#n" x="368.9"/><use href="#n" x="552.6"/><use href="#n" x="797.6"/><use href="#n" x="843.6"/><use href="#n" x="889.5"/><use href="#n" x="920.1"/></g>
<g class="Y" transform="translate(0,30.5)"><use href="#n" x="123.9"/><use href="#n" x="154.5"/><use href="#n" x="200.4"/><use href="#n" x="215.8"/><use href="#n" x="246.4"/><use href="#n" x="322.9"/><use href="#n" x="353.6"/><use href="#n" x="445.4"/><use href="#n" x="476.1"/><use href="#n" x="491.4"/><use href="#n" x="506.7"/><use href="#n" x="613.9"/><use href="#n" x="736.4"/><use href="#n" x="828.3"/><use href="#n" x="950.8"/></g>
<g class="B" transform="translate(0,45.75)"><use href="#n" x="78"/><use href="#n" x="108.7"/><use href="#n" x="307.6"/><use href="#n" x="430.1"/><use href="#n" x="460.8"/><use href="#n" x="644.5"/><use href="#n" x="981.4"/></g>
<g class="O" transform="translate(0,61)"><use href="#n" x="62.6"/><use href="#n" x="93.3"/><use href="#n" x="231.1"/><use href="#n" x="261.7"/><use href="#n" x="292.3"/><use href="#n" x="414.8"/><use href="#n" x="583.3"/><use href="#n" x="675.1"/><use href="#n" x="705.8"/></g>
<rect class="ob" x="32" y="0" width="980" height="61"/>
<g class="a" transform="translate(0,76.3)"><text x="275.5">375</text><text x="520.5">350</text><text x="765.5">200</text><text x="1010.5">206</text></g>
<g class="b" transform="translate(0,89.6)"><text x="275.5">47810</text><text x="520.5">50610</text><text x="765.5">52210</text><text x="1010.5">53858</text></g>
<g class="c" transform="translate(0,102.6)"><text x="275.5">28.85%</text><text x="520.5">16.35%</text><text x="765.5">3.85%</text><text x="1010.5">0.00%</text></g>
</g>

<g id="row-20" transform="translate(0,2884.7)">
<rect class="gb" x="32" y="-10" width="980" height="81"/><rect class="yb" x="246.4" y="-10" width="255" height="81"/>
<use href="#grid"/>
<g class="tp" transform="translate(0,-20)"><use href="#q" x="32"/><text x="36.7">=117</text><use href="#q" x="93.3"/><text x="98">=113</text><use href="#q" x="154.5"/><text x="159.2">=121</text><use href="#q" x="215.8"/><text x="220.5">=119</text><use href="#q" x="338.3"/><text x="343">=118</text><use href="#q" x="399.5"/><text x="404.2">=121</text><use href="#q" x="460.8"/><text x="465.5">=120</text><use href="#q" x="522"/><text x="526.7">=113</text><use href="#q" x="583.3"/><text x="588">=118</text><use href="#q" x="644.5"/><text x="649.2">=117</text><use href="#q" x="705.8"/><text x="710.5">=116</text><use href="#q" x="767"/><text x="771.7">=117</text><use href="#q" x="889.5"/><text x="894.2">=119</text></g>
<g class="mn" transform="translate(0,-7)"><text x="32">77</text><text x="277">78</text><text x="522">79</text><text x="767">80</text></g>
<g class="G"><rect x="614" y="-3.4" width="168.3" height="6.8"/><use href="#n" x="614"/><use href="#n" x="920.1"/></g>
<g class="R" transform="translate(0,15.25)"><rect x="170" y="-3.4" width="30" height="6.8"/><rect x="950.8" y="-3.4" width="45.2" height="6.8"/><use href="#n" x="170"/><use href="#n" x="215.8"/><use href="#n" x="904.7"/><use href="#n" x="950.8"/><use href="#s" x="246.4"/></g>
<g class="Y" transform="translate(0,30.5)"><use href="#n" x="93.3"/><use href="#n" x="154.5"/><use href="#n" x="828.3"/><use href="#n" x="889.5"/><use href="#s" x="277"/></g>
<g class="B" transform="translate(0,45.75)"><rect x="108.7" y="-3.4" width="30" height="6.8"/><rect x="838.7" y="-3.4" width="35.5" height="6.8"/><use href="#n" x="32"/><use href="#n" x="108.7"/><use href="#n" x="797.6"/><use href="#n" x="838.7"/><use href="#s" x="307.6"/><use href="#s" x="378.7"/><use href="#s" x="440"/><use href="#s" x="491.4"/></g>
<g class="O" transform="translate(0,61)"><rect x="318" y="-3.4" width="45.3" height="6.8"/><rect x="388" y="-3.4" width="35.3" height="6.8"/><rect x="552.6" y="-3.4" width="45.4" height="6.8"/><use href="#n" x="62.6"/><use href="#n" x="531.3"/><use href="#n" x="552.6"/><use href="#n" x="797.6"/><use href="#s" x="318"/><use href="#s" x="388"/><use href="#s" x="449.3"/><use href="#s" x="501.3"/></g>
<rect class="ob" x="32" y="0" width="408" height="61"/><rect class="og" x="246.4" y="0" width="255" height="61"/><rect class="op" x="440" y="0" width="8.7" height="61"/><rect class="op" x="531.3" y="0" width="9.4" height="61"/><rect class="ob" x="540.7" y="0" width="471.3" height="61"/>
<g class="a" transform="translate(0,76.3)"><text x="275.5">212</text><text x="520.5">241</text><text x="765.5">114</text><text x="1010.5">219</text></g>
<g class="b" transform="translate(0,89.6)"><text x="275.5">55554</text><text x="520.5">57282</text><text x="765.5">58194</text><text x="1010.5">59946</text></g>
<g class="c" transform="translate(0,102.6)"><text x="275.5">0.00%</text><text x="520.5">25.00%</text><text x="765.5">13.52%</text><text x="1010.5">1.02%</text></g>
</g>

<g id="row-21" transform="translate(0,3025.7)">
<rect class="gb" x="32" y="-10" width="551.3" height="81"/>
<use href="#grid"/>
<g class="tp" transform="translate(0,-20)"><use href="#q" x="32"/><text x="36.7">=118</text><use href="#q" x="154.5"/><text x="159.2">=117</text><use href="#q" x="277"/><text x="281.7">=117</text><use href="#q" x="338.3"/><text x="343">=120</text><use href="#q" x="399.5"/><text x="404.2">=126</text><use href="#q" x="460.8"/><text x="465.5">=116</text><use href="#q" x="522"/><text x="526.7">=118</text><use href="#q" x="583.3"/><text x="588">=117</text><use href="#q" x="644.5"/><text x="649.2">=113</text><use href="#q" x="705.8"/><text x="710.5">=114</text><use href="#q" x="767"/><text x="771.7">=115</text><use href="#q" x="889.5"/><text x="894.2">=117</text><use href="#q" x="950.8"/><text x="955.5">=114</text></g>
<g class="mn" transform="translate(0,-7)"><text x="32">81</text><text x="277">82</text><text x="522">83</text><text x="767">84</text></g>
<g class="G"><rect x="522" y="-3.4" width="61.3" height="6.8"/><use href="#n" x="62.6"/><use href="#n" x="322.9"/><use href="#n" x="522"/></g>
<g class="R" transform="translate(0,15.25)"><rect x="981.4" y="-3.4" width="30.6" height="6.8"/><use href="#n" x="77.9"/><use href="#n" x="154.5"/><use href="#n" x="277"/><use href="#n" x="307.6"/><use href="#n" x="368.9"/><use href="#n" x="460.8"/><use href="#n" x="981.4"/></g>
<g class="Y" transform="translate(0,30.5)"><use href="#n" x="47.3"/><use href="#n" x="93.3"/><use href="#n" x="154.5"/><use href="#n" x="185.1"/><use href="#n" x="215.8"/><use href="#n" x="307.6"/><use href="#n" x="384.2"/><use href="#n" x="414.8"/><use href="#n" x="920.1"/><use href="#n" x="950.8"/></g>
<g class="B" transform="translate(0,45.75)"><use href="#n" x="32"/><use href="#n" x="123.9"/><use href="#n" x="200.4"/><use href="#n" x="246.4"/><use href="#n" x="399.5"/><use href="#n" x="491.4"/><use href="#n" x="935.4"/></g>
<g class="O" transform="translate(0,61)"><use href="#n" x="185.1"/><use href="#n" x="200.4"/><use href="#n" x="353.6"/><use href="#n" x="506.7"/><use href="#n" x="920.1"/></g>
<rect class="ob" x="32" y="0" width="508.7" height="61"/>
<g class="a" transform="translate(0,76.3)"><text x="275.5">350</text><text x="520.5">300</text><text x="765.5">37</text><text x="1010.5">131</text></g>
<g class="b" transform="translate(0,89.6)"><text x="275.5">62746</text><text x="520.5">65146</text><text x="765.5">88510</text><text x="1010.5">89034</text></g>
<g class="c" transform="translate(0,102.6)"><text x="275.5">0.00%</text><text x="520.5">0.00%</text><text x="765.5">0.00%</text><text x="1010.5">0.00%</text></g>
</g>

<g id="row-22" transform="translate(0,3166.7)">
<use href="#grid"/>
<g class="tp" transform="translate(0,-20)"><use href="#q" x="32"/><text x="36.7">=117</text><use href="#q" x="93.3"/><text x="98">=115</text><use href="#q" x="154.5"/><text x="159.2">=115</text><use href="#q" x="277"/><text x="281.7">=115</text><use href="#q" x="338.3"/><text x="343">=118</text><use href="#q" x="399.5"/><text x="404.2">=118</text><use href="#q" x="460.8"/><text x="465.5">=121</text><use href="#q" x="522"/><text x="526.7">=112</text><use href="#q" x="583.3"/><text x="588">=114</text><use href="#q" x="705.8"/><text x="710.5">=118</text><use href="#q" x="767"/><text x="771.7">=115</text><use href="#q" x="889.5"/><text x="894.2">=117</text><use href="#q" x="950.8"/><text x="955.5">=117</text></g>
<g class="mn" transform="translate(0,-7)"><text x="32">85</text><text x="277">86</text><text x="522">87</text><text x="767">88</text></g>
<g class="R" transform="translate(0,15.25)"><rect x="32" y="-3.4" width="30.6" height="6.8"/><rect x="491.4" y="-3.4" width="45.3" height="6.8"/><rect x="981.4" y="-3.4" width="30.6" height="6.8"/><use href="#n" x="981.4"/><use href="#s" x="491.4"/></g>
<g class="Y" transform="translate(0,30.5)"><use href="#n" x="920.1"/><use href="#n" x="950.8"/><use href="#s" x="430.1"/><use href="#s" x="460.8"/></g>
<g class="B" transform="translate(0,45.75)"><use href="#n" x="935.4"/><use href="#s" x="445.4"/></g>
<g class="O" transform="translate(0,61)"><use href="#n" x="920.1"/><use href="#s" x="430.1"/></g>
<rect class="og" x="430.1" y="0" width="106.6" height="61"/>
<g class="a" transform="translate(0,76.3)"><text x="275.5">6</text><text x="520.5">131</text><text x="765.5">3</text><text x="1010.5">131</text></g>
<g class="b" transform="translate(0,89.6)"><text x="275.5">89058</text><text x="520.5">89582</text><text x="765.5">89594</text><text x="1010.5">90118</text></g>
<g class="c" transform="translate(0,102.6)"><text x="275.5">0.00%</text><text x="520.5">26.70%</text><text x="765.5">27.55%</text><text x="1010.5">27.55%</text></g>
</g>

<g id="row-23" transform="translate(0,3307.7)">
<use href="#grid"/>
<g class="tp" transform="translate(0,-20)"><use href="#q" x="32"/><text x="36.7">=118</text><use href="#q" x="154.5"/><text x="159.2">=117</text><use href="#q" x="277"/><text x="281.7">=118</text><use href="#q" x="399.5"/><text x="404.2">=119</text><use href="#q" x="460.8"/><text x="465.5">=116</text><use href="#q" x="522"/><text x="526.7">=115</text><use href="#q" x="583.3"/><text x="588">=118</text><use href="#q" x="644.5"/><text x="649.2">=116</text><use href="#q" x="705.8"/><text x="710.5">=118</text><use href="#q" x="767"/><text x="771.7">=117</text><use href="#q" x="889.5"/><text x="894.2">=116</text></g>
<g class="mn" transform="translate(0,-7)"><text x="32">89</text><text x="277">90</text><text x="522">91</text><text x="767">92</text></g>
<g class="R" transform="translate(0,15.25)"><rect x="32" y="-3.4" width="14.7" height="6.8"/><rect x="736.4" y="-3.4" width="91.9" height="6.8"/><use href="#n" x="736.4"/></g>
<g class="Y" transform="translate(0,30.5)"><rect x="736.4" y="-3.4" width="91.9" height="6.8"/><use href="#n" x="736.4"/></g>
<g class="a" transform="translate(0,76.3)"><text x="275.5">3</text><text x="520.5">0</text><text x="765.5">62</text><text x="1010.5">24</text></g>
<g class="b" transform="translate(0,89.6)"><text x="275.5">90130</text><text x="520.5">90130</text><text x="765.5">90378</text><text x="1010.5">90474</text></g>
<g class="c" transform="translate(0,102.6)"><text x="275.5">27.55%</text><text x="520.5">27.55%</text><text x="765.5">27.55%</text><text x="1010.5">27.55%</text></g>
</g>

<g id="row-24" transform="translate(0,3448.7)">
<use href="#grid"/>
<g class="tp" transform="translate(0,-20)"><use href="#q" x="32"/><text x="36.7">=118</text><use href="#q" x="154.5"/><text x="159.2">=116</text><use href="#q" x="277"/><text x="281.7">=119</text><use href="#q" x="338.3"/><text x="343">=120</text><use href="#q" x="399.5"/><text x="404.2">=121</text><use href="#q" x="460.8"/><text x="465.5">=121</text><use href="#q" x="522"/><text x="526.7">=110</text><use href="#q" x="583.3"/><text x="588">=117</text><use href="#q" x="644.5"/><text x="649.2">=118</text><use href="#q" x="705.8"/><text x="710.5">=118</text><use href="#q" x="767"/><text x="771.7">=117</text><use href="#q" x="889.5"/><text x="894.2">=118</text><use href="#q" x="950.8"/><text x="955.5">=116</text></g>
<g class="mn" transform="translate(0,-7)"><text x="32">93</text><text x="277">94</text><text x="522">95</text><text x="767">96</text></g>
<g class="G"><rect x="368.9" y="-3.4" width="45.9" height="6.8"/><rect x="522" y="-3.4" width="61.3" height="6.8"/><use href="#n" x="185.1"/><use href="#n" x="368.9"/><use href="#n" x="460.8"/><use href="#n" x="522"/></g>
<g class="R" transform="translate(0,15.25)"><use href="#n" x="93.3"/><use href="#n" x="277"/><use href="#n" x="476.1"/></g>
<g class="Y" transform="translate(0,30.5)"><use href="#n" x="123.9"/><use href="#n" x="307.6"/><use href="#n" x="445.4"/><use href="#n" x="491.4"/></g>
<g class="B" transform="translate(0,45.75)"><use href="#n" x="430.1"/></g>
<g class="O" transform="translate(0,61)"><use href="#n" x="154.5"/><use href="#n" x="338.3"/></g>
<g class="a" transform="translate(0,76.3)"><text x="275.5">100</text><text x="520.5">234</text><text x="765.5">37</text><text x="1010.5">0</text></g>
<g class="b" transform="translate(0,89.6)"><text x="275.5">90874</text><text x="520.5">91810</text><text x="765.5">91958</text><text x="1010.5">91958</text></g>
<g class="c" transform="translate(0,102.6)"><text x="275.5">27.55%</text><text x="520.5">27.55%</text><text x="765.5">27.55%</text><text x="1010.5">27.55%</text></g>
</g>

<g id="row-25" transform="translate(0,3589.7)">
<use href="#grid"/>
<g class="tp" transform="translate(0,-20)"><use href="#q" x="32"/><text x="36.7">=117</text><use href="#q" x="154.5"/><text x="159.2">=120</text><use href="#q" x="277"/><text x="281.7">=120</text><use href="#q" x="399.5"/><text x="404.2">=121</text><use href="#q" x="522"/><text x="526.7">=114</text><use href="#q" x="583.3"/><text x="588">=119</text><use href="#q" x="644.5"/><text x="649.2">=118</text><use href="#q" x="705.8"/><text x="710.5">=116</text><use href="#q" x="767"/><text x="771.7">=117</text><use href="#q" x="889.5"/><text x="894.2">=121</text><use href="#q" x="950.8"/><text x="955.5">=120</text></g>
<g class="mn" transform="translate(0,-7)"><text x="32">97</text><text x="277">98</text><text x="522">99</text><text x="767">100</text></g>
<g class="G"><rect x="368.9" y="-3.4" width="45.9" height="6.8"/><use href="#n" x="185.1"/><use href="#n" x="246.4"/><use href="#n" x="261.7"/><use href="#s" x="368.9"/><use href="#s" x="460.8"/></g>
<g class="R" transform="translate(0,15.25)"><rect x="736.4" y="-3.4" width="91.9" height="6.8"/><use href="#n" x="93.3"/><use href="#n" x="736.4"/><use href="#s" x="277"/><use href="#s" x="476.1"/></g>
<g class="Y" transform="translate(0,30.5)"><rect x="736.4" y="-3.4" width="91.9" height="6.8"/><use href="#n" x="123.9"/><use href="#n" x="736.4"/><use href="#s" x="307.6"/><use href="#s" x="445.4"/><use href="#s" x="491.4"/></g>
<g class="B" transform="translate(0,45.75)"><use href="#s" x="430.1"/></g>
<g class="O" transform="translate(0,61)"><rect x="736.4" y="-3.4" width="91.9" height="6.8"/><use href="#n" x="154.5"/><use href="#n" x="736.4"/><use href="#s" x="338.3"/></g>
<rect class="og" x="277" y="0" width="214.4" height="61"/>
<g class="a" transform="translate(0,76.3)"><text x="275.5">150</text><text x="520.5">234</text><text x="765.5">93</text><text x="1010.5">36</text></g>
<g class="b" transform="translate(0,89.6)"><text x="275.5">92558</text><text x="520.5">93494</text><text x="765.5">93866</text><text x="1010.5">94010</text></g>
<g class="c" transform="translate(0,102.6)"><text x="275.5">27.55%</text><text x="520.5">55.10%</text><text x="765.5">55.10%</text><text x="1010.5">55.10%</text></g>
</g>

<g id="row-26" transform="translate(0,3730.7)">
<use href="#grid"/>
<g class="tp" transform="translate(0,-20)"><use href="#q" x="32"/><text x="36.7">=111</text><use href="#q" x="93.3"/><text x="98">=117</text><use href="#q" x="154.5"/><text x="159.2">=117</text><use href="#q" x="277"/><text x="281.7">=120</text><use href="#q" x="338.3"/><text x="343">=116</text><use href="#q" x="399.5"/><text x="404.2">=126</text><use href="#q" x="460.8"/><text x="465.5">=122</text><use href="#q" x="522"/><text x="526.7">=111</text><use href="#q" x="583.3"/><text x="588">=118</text><use href="#q" x="644.5"/><text x="649.2">=117</text><use href="#q" x="705.8"/><text x="710.5">=116</text><use href="#q" x="767"/><text x="771.7">=117</text><use href="#q" x="889.5"/><text x="894.2">=118</text></g>
<g class="mn" transform="translate(0,-7)"><text x="32">101</text><text x="277">102</text><text x="522">103</text><text x="767">104</text></g>
<g class="G"><use href="#n" x="506.7"/></g>
<g class="R" transform="translate(0,15.25)"><rect x="736.4" y="-3.4" width="91.9" height="6.8"/><use href="#n" x="93.3"/><use href="#n" x="384.2"/><use href="#n" x="430.1"/><use href="#n" x="491.4"/><use href="#n" x="736.4"/></g>
<g class="Y" transform="translate(0,30.5)"><rect x="736.4" y="-3.4" width="91.9" height="6.8"/><use href="#n" x="123.9"/><use href="#n" x="185.1"/><use href="#n" x="307.6"/><use href="#n" x="399.5"/><use href="#n" x="445.4"/><use href="#n" x="476.1"/><use href="#n" x="736.4"/></g>
<g class="B" transform="translate(0,45.75)"><use href="#n" x="215.8"/><use href="#n" x="460.8"/></g>
<g class="O" transform="translate(0,61)"><rect x="736.4" y="-3.4" width="91.9" height="6.8"/><use href="#n" x="154.5"/><use href="#n" x="246.4"/><use href="#n" x="277"/><use href="#n" x="338.3"/><use href="#n" x="368.9"/><use href="#n" x="414.8"/><use href="#n" x="736.4"/></g>
<g class="a" transform="translate(0,76.3)"><text x="275.5">150</text><text x="520.5">325</text><text x="765.5">93</text><text x="1010.5">36</text></g>
<g class="b" transform="translate(0,89.6)"><text x="275.5">94610</text><text x="520.5">95910</text><text x="765.5">96282</text><text x="1010.5">96426</text></g>
<g class="c" transform="translate(0,102.6)"><text x="275.5">55.10%</text><text x="520.5">55.10%</text><text x="765.5">55.10%</text><text x="1010.5">55.10%</text></g>
</g>

<g id="row-27" transform="translate(0,3871.7)">
<rect class="gb" x="399.5" y="-10" width="612.5" height="81"/><rect class="yb" x="522" y="-10" width="202.7" height="81"/>
<use href="#grid"/>
<g class="tp" transform="translate(0,-20)"><use href="#q" x="32"/><text x="36.7">=117</text><use href="#q" x="93.3"/><text x="98">=118</text><use href="#q" x="154.5"/><text x="159.2">=119</text><use href="#q" x="277"/><text x="281.7">=121</text><use href="#q" x="338.3"/><text x="343">=123</text><use href="#q" x="399.5"/><text x="404.2">=119</text><use href="#q" x="460.8"/><text x="465.5">=118</text><use href="#q" x="522"/><text x="526.7">=119</text><use href="#q" x="583.3"/><text x="588">=116</text><use href="#q" x="644.5"/><text x="649.2">=123</text><use href="#q" x="705.8"/><text x="710.5">=120</text><use href="#q" x="767"/><text x="771.7">=120</text><use href="#q" x="828.3"/><text x="833">=119</text></g>
<g class="mn" transform="translate(0,-7)"><text x="32">105</text><text x="277">106</text><text x="522">107</text><text x="767">108</text></g>
<g class="G"><use href="#n" x="215.8"/></g>
<g class="R" transform="translate(0,15.25)"><rect x="292.3" y="-3.4" width="30.4" height="6.8"/><rect x="338.3" y="-3.4" width="45.7" height="6.8"/><use href="#n" x="93.3"/><use href="#n" x="185.1"/><use href="#n" x="246.4"/><use href="#n" x="292.3"/><use href="#n" x="338.3"/></g>
<g class="Y" transform="translate(0,30.5)"><use href="#n" x="123.9"/><use href="#n" x="185.1"/><use href="#n" x="277"/><use href="#n" x="399.5"/></g>
<g class="B" transform="translate(0,45.75)"><use href="#n" x="430.1"/><use href="#n" x="930.7"/><use href="#n" x="970"/></g>
<g class="O" transform="translate(0,61)"><use href="#n" x="154.5"/><use href="#n" x="440"/><use href="#n" x="476.1"/><use href="#n" x="767"/><use href="#n" x="808"/><use href="#n" x="847.3"/><use href="#n" x="889.5"/><use href="#s" x="522"/><use href="#s" x="562.7"/><use href="#s" x="602.7"/><use href="#s" x="644.5"/><use href="#s" x="685.3"/><use href="#s" x="724.7"/></g>
<rect class="og" x="522" y="0" width="202.7" height="61"/>
<g class="a" transform="translate(0,76.3)"><text x="275.5">175</text><text x="520.5">190</text><text x="765.5">150</text><text x="1010.5">150</text></g>
<g class="b" transform="translate(0,89.6)"><text x="275.5">97126</text><text x="520.5">97886</text><text x="765.5">98486</text><text x="1010.5">99086</text></g>
<g class="c" transform="translate(0,102.6)"><text x="275.5">55.10%</text><text x="520.5">55.10%</text><text x="765.5">80.10%</text><text x="1010.5">80.10%</text></g>
</g>

<g id="row-28" transform="translate(0,4012.7)">
<rect class="gb" x="32" y="-10" width="980" height="81"/>
<use href="#grid"/>
<g class="tp" transform="translate(0,-20)"><use href="#q" x="32"/><text x="36.7">=122</text><use href="#q" x="93.3"/><text x="98">=119</text><use href="#q" x="154.5"/><text x="159.2">=120</text><use href="#q" x="215.8"/><text x="220.5">=118</text><use href="#q" x="277"/><text x="281.7">=121</text><use href="#q" x="399.5"/><text x="404.2">=122</text><use href="#q" x="522"/><text x="526.7">=116</text><use href="#q" x="583.3"/><text x="588">=120</text><use href="#q" x="644.5"/><text x="649.2">=120</text><use href="#q" x="767"/><text x="771.7">=122</text></g>
<g class="mn" transform="translate(0,-7)"><text x="32">109</text><text x="277">110</text><text x="522">111</text><text x="767">112</text></g>
<g class="G"><rect x="767" y="-3.4" width="45.7" height="6.8"/><use href="#n" x="277"/><use href="#n" x="568"/><use href="#n" x="690.7"/><use href="#n" x="767"/></g>
<g class="R" transform="translate(0,15.25)"><rect x="715.3" y="-3.4" width="36" height="6.8"/><use href="#n" x="307.6"/><use href="#n" x="368.9"/><use href="#n" x="430.1"/><use href="#n" x="480"/><use href="#n" x="541.3"/><use href="#n" x="715.3"/><use href="#n" x="874.2"/></g>
<g class="Y" transform="translate(0,30.5)"><rect x="318" y="-3.4" width="35.3" height="6.8"/><rect x="378.7" y="-3.4" width="36" height="6.8"/><use href="#n" x="318"/><use href="#n" x="378.7"/><use href="#n" x="440"/><use href="#n" x="491.4"/><use href="#n" x="522"/><use href="#n" x="583.3"/><use href="#n" x="858.9"/><use href="#n" x="889.5"/><use href="#n" x="904.8"/><use href="#n" x="935.4"/><use href="#n" x="996.7"/></g>
<g class="B" transform="translate(0,45.75)"><use href="#n" x="32"/><use href="#n" x="195.3"/><use href="#n" x="234.7"/><use href="#n" x="843.3"/></g>
<g class="O" transform="translate(0,61)"><rect x="592.7" y="-3.4" width="82" height="6.8"/><use href="#n" x="73.3"/><use href="#n" x="112.7"/><use href="#n" x="154.5"/><use href="#n" x="592.7"/><use href="#n" x="828.3"/><use href="#n" x="920.1"/><use href="#n" x="950.8"/><use href="#n" x="981.4"/></g>
<rect class="ob" x="663.3" y="0" width="348.7" height="61"/>
<g class="a" transform="translate(0,76.3)"><text x="275.5">150</text><text x="520.5">239</text><text x="765.5">198</text><text x="1010.5">309</text></g>
<g class="b" transform="translate(0,89.6)"><text x="275.5">99686</text><text x="520.5">100642</text><text x="765.5">101674</text><text x="1010.5">104146</text></g>
<g class="c" transform="translate(0,102.6)"><text x="275.5">80.10%</text><text x="520.5">80.10%</text><text x="765.5">74.87%</text><text x="1010.5">62.37%</text></g>
</g>

<g id="row-29" transform="translate(0,4153.7)">
<rect class="gb" x="32" y="-10" width="980" height="81"/>
<use href="#grid"/>
<g class="tp" transform="translate(0,-20)"><use href="#q" x="32"/><text x="36.7">=122</text><use href="#q" x="154.5"/><text x="159.2">=124</text><use href="#q" x="277"/><text x="281.7">=121</text><use href="#q" x="338.3"/><text x="343">=127</text><use href="#q" x="399.5"/><text x="404.2">=124</text><use href="#q" x="460.8"/><text x="465.5">=125</text><use href="#q" x="522"/><text x="526.7">=125</text><use href="#q" x="644.5"/><text x="649.2">=123</text><use href="#q" x="767"/><text x="771.7">=127</text><use href="#q" x="828.3"/><text x="833">=122</text><use href="#q" x="889.5"/><text x="894.2">=128</text><use href="#q" x="950.8"/><text x="955.5">=127</text></g>
<g class="mn" transform="translate(0,-7)"><text x="32">113</text><text x="277">114</text><text x="522">115</text><text x="767">116</text></g>
<g class="G"><use href="#s" x="93.3"/><use href="#s" x="139.3"/><use href="#s" x="261.3"/><use href="#n" x="322.7"/><use href="#n" x="368.7"/><use href="#n" x="384"/><use href="#n" x="445.3"/><use href="#n" x="491.3"/><use href="#n" x="996.7"/></g>
<g class="R" transform="translate(0,15.25)"><use href="#s" x="124"/><use href="#s" x="246.4"/><use href="#n" x="338.3"/><use href="#n" x="357.3"/><use href="#n" x="399.5"/><use href="#n" x="430.1"/><use href="#n" x="460.8"/><use href="#n" x="522"/><use href="#n" x="537.3"/><use href="#n" x="552.6"/><use href="#n" x="567.9"/><use href="#n" x="583.3"/><use href="#n" x="598.6"/><use href="#n" x="613.9"/><use href="#n" x="629.2"/><use href="#n" x="644.5"/><use href="#n" x="675.1"/><use href="#n" x="721.1"/><use href="#n" x="736.4"/><use href="#n" x="751.7"/><use href="#n" x="767"/><use href="#n" x="782.3"/><use href="#n" x="797.6"/><use href="#n" x="812.9"/><use href="#n" x="828.3"/><use href="#n" x="858.9"/><use href="#n" x="981.4"/></g>
<g class="Y" transform="translate(0,30.5)"><use href="#s" x="47.3"/><use href="#s" x="62.6"/><use href="#s" x="77.9"/><use href="#s" x="200.7"/><use href="#s" x="231.1"/><use href="#n" x="307.6"/><use href="#n" x="348"/><use href="#n" x="414.8"/><use href="#n" x="904.8"/><use href="#n" x="966.1"/></g>
<g class="B" transform="translate(0,45.75)"><use href="#s" x="32"/><use href="#s" x="154.5"/><use href="#s" x="185.1"/><use href="#s" x="215.8"/><use href="#n" x="292.3"/><use href="#n" x="522"/><use href="#n" x="537.3"/><use href="#n" x="552.6"/><use href="#n" x="567.9"/><use href="#n" x="583.3"/><use href="#n" x="598.6"/><use href="#n" x="644.5"/><use href="#n" x="675.1"/><use href="#n" x="721.1"/><use href="#n" x="736.4"/><use href="#n" x="751.7"/><use href="#n" x="767"/><use href="#n" x="782.3"/><use href="#n" x="828.3"/><use href="#n" x="858.9"/><use href="#n" x="920.1"/><use href="#n" x="950.8"/></g>
<g class="O" transform="translate(0,61)"><use href="#s" x="170"/><use href="#n" x="277"/><use href="#n" x="583.3"/><use href="#n" x="598.6"/><use href="#n" x="644.5"/><use href="#n" x="675.1"/><use href="#n" x="767"/><use href="#n" x="782.3"/><use href="#n" x="828.3"/><use href="#n" x="858.9"/><use href="#n" x="904.8"/><use href="#n" x="920.1"/></g>
<rect class="og" x="32" y="0" width="229.3" height="61"/><rect class="ob" x="32" y="0" width="980" height="61"/>
<g class="a" transform="translate(0,76.3)"><text x="275.5">375</text><text x="520.5">375</text><text x="765.5">700</text><text x="1010.5">550</text></g>
<g class="b" transform="translate(0,89.6)"><text x="275.5">107146</text><text x="520.5">110146</text><text x="765.5">115746</text><text x="1010.5">120146</text></g>
<g class="c" transform="translate(0,102.6)"><text x="275.5">74.87%</text><text x="520.5">62.37%</text><text x="765.5">49.87%</text><text x="1010.5">37.37%</text></g>
</g>

<g id="row-30" transform="translate(0,4294.7)">
<rect class="gb" x="32" y="-10" width="980" height="81"/>
<use href="#grid"/>
<g class="tp" transform="translate(0,-20)"><use href="#q" x="32"/><text x="36.7">=125</text><use href="#q" x="154.5"/><text x="159.2">=119</text><use href="#q" x="215.8"/><text x="220.5">=125</text><use href="#q" x="277"/><text x="281.7">=124</text><use href="#q" x="338.3"/><text x="343">=125</text><use href="#q" x="399.5"/><text x="404.2">=124</text><use href="#q" x="460.8"/><text x="465.5">=130</text><use href="#q" x="522"/><text x="526.7">=122</text><use href="#q" x="583.3"/><text x="588">=126</text><use href="#q" x="644.5"/><text x="649.2">=124</text><use href="#q" x="767"/><text x="771.7">=130</text><use href="#q" x="828.3"/><text x="833">=123</text><use href="#q" x="889.5"/><text x="894.2">=130</text><use href="#q" x="950.8"/><text x="955.5">=130</text></g>
<g class="mn" transform="translate(0,-7)"><text x="32">117</text><text x="277">118</text><text x="522">119</text><text x="767">120</text></g>
<g class="G"><use href="#n" x="506.7"/><use href="#n" x="996.7"/></g>
<g class="R" transform="translate(0,15.25)"><use href="#n" x="32"/><use href="#n" x="62.6"/><use href="#n" x="77.9"/><use href="#n" x="93.3"/><use href="#n" x="108.6"/><use href="#n" x="123.9"/><use href="#n" x="139.2"/><use href="#n" x="154.5"/><use href="#n" x="185.1"/><use href="#n" x="231.1"/><use href="#n" x="246.4"/><use href="#n" x="261.7"/><use href="#n" x="277"/><use href="#n" x="292.3"/><use href="#n" x="307.6"/><use href="#n" x="322.9"/><use href="#n" x="338.3"/><use href="#n" x="368.9"/><use href="#n" x="491.4"/><use href="#n" x="522"/><use href="#n" x="552.6"/><use href="#n" x="567.9"/><use href="#n" x="583.3"/><use href="#n" x="598.6"/><use href="#n" x="613.9"/><use href="#n" x="629.2"/><use href="#n" x="644.5"/><use href="#n" x="675.1"/><use href="#n" x="721.1"/><use href="#n" x="736.4"/><use href="#n" x="751.7"/><use href="#n" x="767"/><use href="#n" x="782.3"/><use href="#n" x="797.6"/><use href="#n" x="812.9"/><use href="#n" x="828.3"/><use href="#n" x="858.9"/><use href="#n" x="981.4"/></g>
<g class="Y" transform="translate(0,30.5)"><use href="#n" x="414.8"/><use href="#n" x="430.1"/><use href="#n" x="476.1"/><use href="#n" x="904.8"/><use href="#n" x="966.1"/></g>
<g class="B" transform="translate(0,45.75)"><use href="#n" x="62.6"/><use href="#n" x="77.9"/><use href="#n" x="93.3"/><use href="#n" x="108.6"/><use href="#n" x="154.5"/><use href="#n" x="185.1"/><use href="#n" x="231.1"/><use href="#n" x="246.4"/><use href="#n" x="261.7"/><use href="#n" x="277"/><use href="#n" x="292.3"/><use href="#n" x="338.3"/><use href="#n" x="368.9"/><use href="#n" x="445.4"/><use href="#n" x="460.8"/><use href="#n" x="552.6"/><use href="#n" x="567.9"/><use href="#n" x="583.3"/><use href="#n" x="598.6"/><use href="#n" x="644.5"/><use href="#n" x="675.1"/><use href="#n" x="721.1"/><use href="#n" x="736.4"/><use href="#n" x="751.7"/><use href="#n" x="767"/><use href="#n" x="782.3"/><use href="#n" x="828.3"/><use href="#n" x="858.9"/><use href="#n" x="920.1"/><use href="#n" x="950.8"/></g>
<g class="O" transform="translate(0,61)"><use href="#n" x="93.3"/><use href="#n" x="108.6"/><use href="#n" x="154.5"/><use href="#n" x="185.1"/><use href="#n" x="277"/><use href="#n" x="292.3"/><use href="#n" x="338.3"/><use href="#n" x="368.9"/><use href="#n" x="414.8"/><use href="#n" x="430.1"/><use href="#n" x="445.4"/><use href="#n" x="583.3"/><use href="#n" x="598.6"/><use href="#n" x="644.5"/><use href="#n" x="675.1"/><use href="#n" x="767"/><use href="#n" x="782.3"/><use href="#n" x="828.3"/><use href="#n" x="858.9"/><use href="#n" x="904.8"/><use href="#n" x="920.1"/></g>
<rect class="ob" x="32" y="0" width="980" height="61"/>
<g class="a" transform="translate(0,76.3)"><text x="275.5">625</text><text x="520.5">600</text><text x="765.5">625</text><text x="1010.5">550</text></g>
<g class="b" transform="translate(0,89.6)"><text x="275.5">125146</text><text x="520.5">129946</text><text x="765.5">134946</text><text x="1010.5">139346</text></g>
<g class="c" transform="translate(0,102.6)"><text x="275.5">24.87%</text><text x="520.5">12.37%</text><text x="765.5">0.00%</text><text x="1010.5">0.00%</text></g>
</g>

<g id="row-31" transform="translate(0,4435.7)">
<rect class="gb" x="32" y="-10" width="184" height="81"/>
<use href="#grid2"/>
<g class="tp" transform="translate(0,-20)"><use href="#q" x="32"/><text x="36.7">=127</text><use href="#q" x="93.3"/><text x="98">=126</text><use href="#q" x="154.5"/><text x="159.2">=127</text><use href="#q" x="277"/><text x="281.7">=118</text><use href="#q" x="338.3"/><text x="343">=117</text></g>
<g class="mn" transform="translate(0,-7)"><text x="32">121</text><text x="277">122</text></g>
<g class="G"><use href="#n" x="277"/></g>
<g class="R" transform="translate(0,15.25)"><rect x="368.9" y="-3.4" width="76.5" height="6.8"/><use href="#n" x="32"/><use href="#n" x="62.6"/><use href="#n" x="77.9"/><use href="#n" x="93.3"/><use href="#n" x="108.6"/><use href="#n" x="123.9"/><use href="#n" x="139.2"/><use href="#n" x="154.5"/><use href="#n" x="185.1"/><use href="#n" x="307.6"/><use href="#n" x="368.9"/></g>
<g class="Y" transform="translate(0,30.5)"><rect x="368.9" y="-3.4" width="76.5" height="6.8"/><use href="#n" x="292.3"/><use href="#n" x="368.9"/></g>
<g class="B" transform="translate(0,45.75)"><use href="#n" x="62.6"/><use href="#n" x="77.9"/><use href="#n" x="93.3"/><use href="#n" x="108.6"/><use href="#n" x="154.5"/><use href="#n" x="185.1"/><use href="#n" x="277"/></g>
<g class="O" transform="translate(0,61)"><rect x="368.9" y="-3.4" width="76.5" height="6.8"/><use href="#n" x="93.3"/><use href="#n" x="108.6"/><use href="#n" x="154.5"/><use href="#n" x="185.1"/><use href="#n" x="368.9"/></g>
<rect class="ob" x="32" y="0" width="141.3" height="61"/><rect class="op" x="173.3" y="0" width="12" height="61"/>
<g class="a" transform="translate(0,76.3)"><text x="275.5">475</text><text x="520.5">220</text></g>
<g class="b" transform="translate(0,89.6)"><text x="275.5">159446</text><text x="520.5">160326</text></g>
<g class="c" transform="translate(0,102.6)"><text x="275.5">0.00%</text><text x="520.5">0.00%</text></g>
</g>
</g>
</svg>
